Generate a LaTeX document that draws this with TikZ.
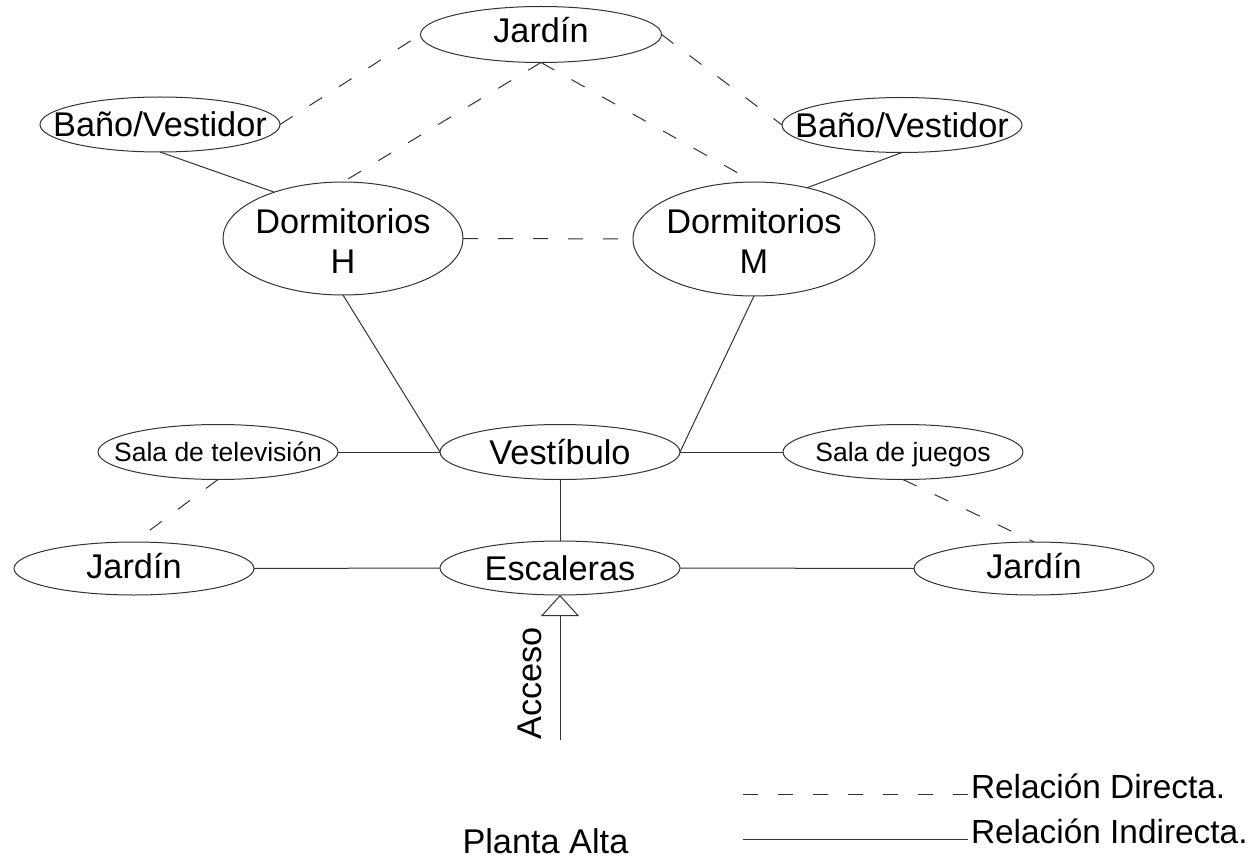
\documentclass[tikz,border=0pt]{standalone}
\usepackage{fontspec}
\setmainfont{Liberation Sans}
\usetikzlibrary{shapes.geometric,arrows.meta,calc}
\newcommand\ctr[2][12.3pt]{\makebox[0pt]{\raisebox{-#1}[0pt][0pt]{#2}}}
\begin{document}
\begin{tikzpicture}[x=1pt,y=-1pt,
  ln/.style={line width=1pt, draw=black!80},
  dsh/.style={ln, dash pattern=on 15pt off 20pt},
  ell/.style={ln, ellipse, inner sep=0pt, outer sep=0pt, minimum width=240pt, minimum height=55pt, font=\fontsize{34.3}{40}\selectfont},
  sml/.style={font=\fontsize{26.5}{32}\selectfont},
  txt/.style={inner sep=0pt, outer sep=0pt, font=\fontsize{34.3}{40}\selectfont},
  leg/.style={inner sep=0pt, outer sep=0pt, font=\fontsize{33.4}{40}\selectfont}]
\fill[white] (0,0) rectangle (1253,861);
\useasboundingbox (0,0) rectangle (1253,861);

% nodes
\node[ell, minimum width=241pt, minimum height=56pt] (jt) at (541,34.5) {\ctr[8.3pt]{Jardín}};
\node[ell] (bl) at (160,124.5) {\ctr{Baño/Vestidor}};
\node[ell] (br) at (902,125) {\ctr{Baño/Vestidor}};
\node[ell, minimum height=113pt] (dh) at (343,238.5) {\ctr[35pt]{\begin{tabular}[b]{@{}c@{}}Dormitorios\\H\end{tabular}}};
\node[ell, minimum width=242pt, minimum height=114pt] (dm) at (754,239) {\ctr[35pt]{\begin{tabular}[b]{@{}c@{}}Dormitorios\\M\end{tabular}}};
\node[ell, sml] (tv) at (218,452) {\ctr[9.5pt]{Sala de televisión}};
\node[ell] (ve) at (560,452) {\ctr{Vestíbulo}};
\node[ell, sml] (sj) at (903,452) {\ctr[9.5pt]{Sala de juegos}};
\node[ell, minimum height=53pt] (jl) at (134,568.5) {\ctr[10pt]{Jardín}};
\node[ell, minimum height=54pt] (es) at (560,568) {\ctr{Escaleras}};
\node[ell, minimum height=53pt] (jr) at (1034,568.5) {\ctr[10pt]{Jardín}};

% direct (dashed) relations
\draw[dsh] (bl.east) -- (jt.west);
\draw[dsh] (jt.east) -- (br.west);
\draw[dsh] (jt.south) -- (dh.north);
\draw[dsh] (jt.south) -- (dm.north);
\draw[dsh] (dh.east) -- (dm.west);
\draw[dsh] (tv.south) -- (jl.north);
\draw[dsh] (sj.south) -- (jr.north);

% indirect (solid) relations
\draw[ln] (bl.south) -- (dh.146.7);
\draw[ln] (br.south) -- (dm.44.5);
\draw[ln] (dh.south) -- (ve.west);
\draw[ln] (dm.south) -- (ve.east);
\draw[ln] (tv.east) -- (ve.west);
\draw[ln] (ve.east) -- (sj.west);
\draw[ln] (ve.south) -- (es.north);
\draw[ln] (jl.east) -- (es.west);
\draw[ln] (es.east) -- (jr.west);

% access
\coordinate (ac) at (560,740);
\draw[ln, -{Triangle[open,length=21pt,width=38pt]}] (ac) -- (es.south);
\node[txt, rotate=90] (acc) at (529.5,683.5) {Acceso};

% title
\node[txt, anchor=base west] (pa) at (462.5,853) {Planta Alta};

% legend
\node[leg, anchor=base west] (ld) at (971,798) {Relación Directa.};
\node[leg, anchor=base west] (li) at (971,843) {Relación Indirecta.};
\coordinate (l1) at (743,794);
\coordinate (l2) at (743,839);
\draw[dsh] (l1) -- (l1 -| ld.west);
\draw[ln, shorten >=3pt] (l2) -- (l2 -| li.west);
\end{tikzpicture}
\end{document}
